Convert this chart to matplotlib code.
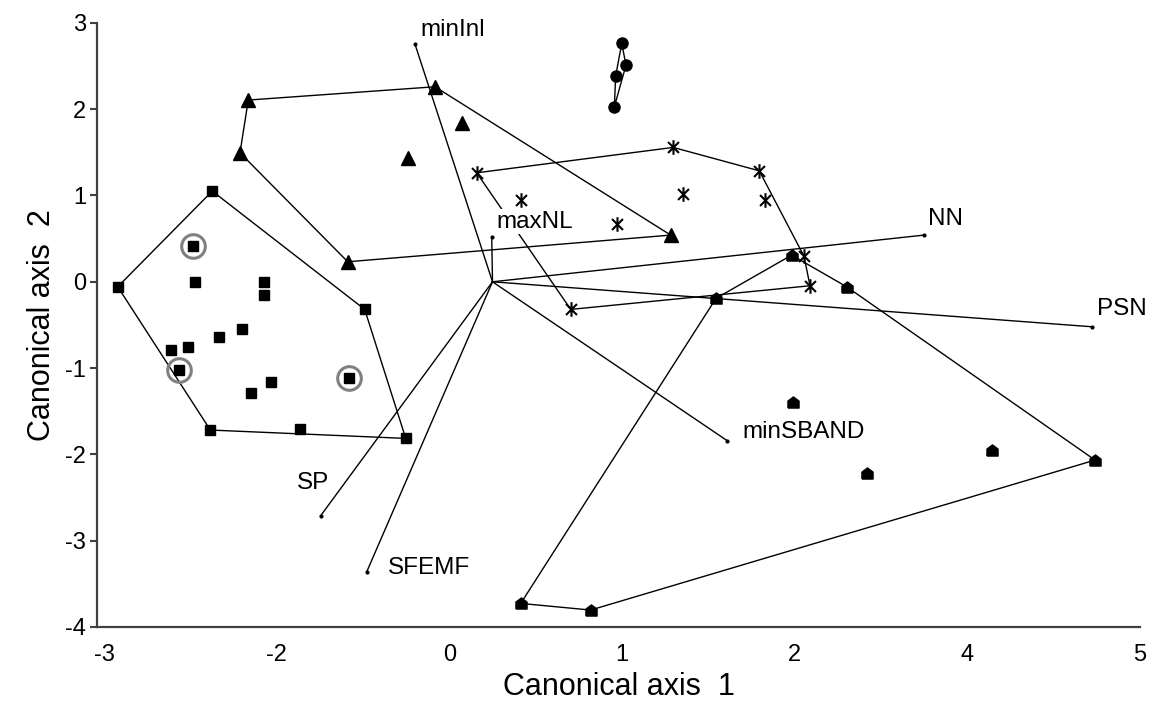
import numpy as np
import matplotlib.pyplot as plt
from matplotlib.path import Path

plt.rcParams['font.family'] = ['Liberation Sans', 'DejaVu Sans']

# group scores on the two canonical axes
square_x = [-2.894, -2.164, -2.315, -2.297, -1.767, -1.767, -1.932, -2.112, -2.354,
            -2.483, -2.419, -1.713, -1.865, -1.110, -0.987, -2.179, -1.486, -0.670]
square_y = [-0.058, 1.051, 0.414, -0.007, -0.007, -0.154, -0.548, -0.641, -0.757,
            -0.791, -1.023, -1.162, -1.293, -1.112, -0.320, -1.718, -1.710, -1.815]
circled = [2, 10, 13]  # squares marked with a grey ring

triangle_x = [-1.886, -0.444, -1.950, -1.118, -0.238, -0.650, 1.376]
triangle_y = [2.106, 2.260, 1.495, 0.232, 1.835, 1.437, 0.541]

dot_x = [0.998, 1.031, 0.951, 0.941]
dot_y = [2.762, 2.511, 2.384, 2.028]

star_x = [-0.122, 0.218, 0.964, 1.396, 1.473, 2.060, 2.104, 2.405, 2.452, 0.604]
star_y = [1.263, 0.943, 0.669, 1.557, 1.016, 1.286, 0.947, 0.298, -0.046, -0.320]

house_x = [2.310, 2.735, 1.726, 2.323, 3.859, 4.653, 2.894, 0.218, 0.758]
house_y = [0.309, -0.058, -0.192, -1.390, -1.950, -2.066, -2.220, -3.727, -3.804]

# variable vectors (from origin)
vec_names = ['minInl', 'maxNL', 'NN', 'PSN', 'minSBAND', 'SP', 'SFEMF']
vec_x = [-0.598, -0.006, 3.332, 4.627, 1.811, -1.327, -0.971]
vec_y = [2.751, 0.514, 0.541, -0.521, -1.840, -2.711, -3.360]
lab_x = [-0.560, 0.032, 3.365, 4.666, 1.932, -1.512, -0.805]
lab_y = [2.917, 0.695, 0.727, -0.320, -1.738, -2.336, -3.321]

xtick_labels = ['-3', '-2', '0', '1', '2', '4', '5']
ytick_values = [-4, -3, -2, -1, 0, 1, 2, 3]


def hull(xs, ys):
    pts = sorted(zip(xs, ys))

    def cross(o, a, b):
        return (a[0] - o[0]) * (b[1] - o[1]) - (a[1] - o[1]) * (b[0] - o[0])

    lower, upper = [], []
    for p in pts:
        while len(lower) >= 2 and cross(lower[-2], lower[-1], p) <= 0:
            lower.pop()
        lower.append(p)
    for p in reversed(pts):
        while len(upper) >= 2 and cross(upper[-2], upper[-1], p) <= 0:
            upper.pop()
        upper.append(p)
    h = lower[:-1] + upper[:-1]
    h.append(h[0])
    return [p[0] for p in h], [p[1] for p in h]


house = [(-1, -1), (1, -1), (1, 0.25), (0, 1), (-1, 0.25), (-1, -1)]
asterisk = Path([(0, -1), (0, 1), (-0.75, -0.75), (0.75, 0.75), (-0.75, 0.75), (0.75, -0.75)],
                [Path.MOVETO, Path.LINETO] * 3)

fig = plt.figure(figsize=(11.55, 7.09), dpi=100)
ax = fig.add_axes([0.084, 0.1157, 0.903, 0.852])

# vectors
for vx, vy, name, tx, ty in zip(vec_x, vec_y, vec_names, lab_x, lab_y):
    ax.plot([0, vx], [0, vy], color='black', lw=1.0, zorder=2)
    ax.plot(vx, vy, 'o', color='black', ms=2, zorder=2)
    if name == 'maxNL':
        ax.text(tx, ty, name, fontsize=17.5, va='center', ha='left', zorder=5,
                bbox=dict(facecolor='white', edgecolor='none', pad=1))
    else:
        ax.text(tx, ty, name, fontsize=17.5, va='center', ha='left', zorder=5)

# hulls
for xs, ys in [(square_x, square_y), (triangle_x, triangle_y), (dot_x, dot_y),
               (star_x, star_y), (house_x, house_y)]:
    hx, hy = hull(xs, ys)
    ax.plot(hx, hy, color='black', lw=1.0, zorder=2)

# points
ax.plot(square_x, square_y, 's', color='black', ms=7.5, ls='none', zorder=3)
ax.plot([square_x[i] for i in circled], [square_y[i] for i in circled], 'o',
        mfc='none', mec='#808080', ms=17, mew=2.2, ls='none', zorder=4)
ax.plot(triangle_x, triangle_y, '^', color='black', ms=9.5, ls='none', zorder=3)
ax.plot(dot_x, dot_y, 'o', color='black', ms=8, ls='none', zorder=3)
ax.plot(star_x, star_y, marker=asterisk, color='black', ms=10.5, mew=1.5, ls='none', zorder=3)
ax.plot(house_x, house_y, marker=house, color='black', ms=8, ls='none', zorder=3)

ax.set_xlim(-3.054, 5.0)
ax.set_ylim(-4, 3)
ax.set_xticks(np.linspace(-3, 5, len(xtick_labels)))
ax.set_xticklabels(xtick_labels)
ax.set_yticks(ytick_values)
ax.set_yticklabels([str(v) for v in ytick_values])

for s in ['top', 'right']:
    ax.spines[s].set_visible(False)
for s in ['left', 'bottom']:
    ax.spines[s].set_color('#404040')
    ax.spines[s].set_linewidth(1.6)

ax.tick_params(axis='x', length=0, pad=12, labelsize=17)
ax.tick_params(axis='y', length=5, width=1.5, color='#404040', direction='out', pad=3, labelsize=17)

ax.set_xlabel('Canonical axis  1', fontsize=22)
ax.set_ylabel('Canonical axis  2', fontsize=22)
ax.xaxis.set_label_coords(0.5, -0.074)
ax.yaxis.set_label_coords(-0.038, 0.5)

fig.savefig('out.png', dpi=100)
